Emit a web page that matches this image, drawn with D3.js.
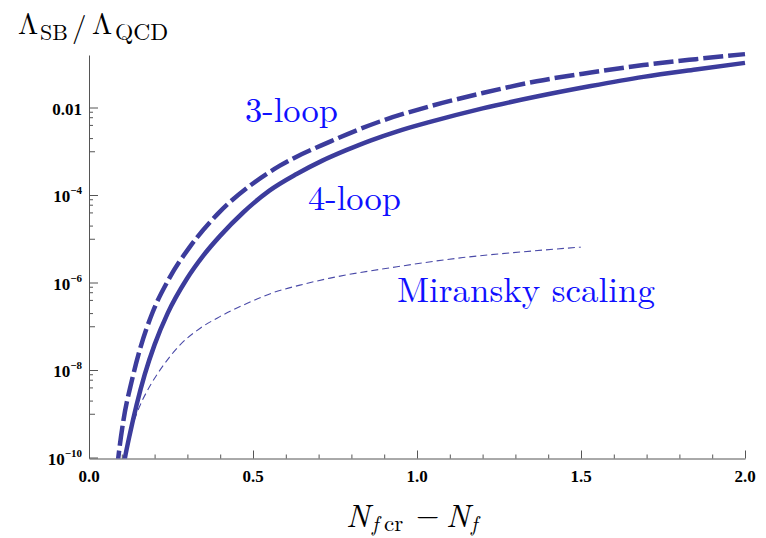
<!DOCTYPE html>
<html>
<head>
<meta charset="utf-8">
<script src="https://cdn.jsdelivr.net/npm/d3@7"></script>
<style>
  html, body { margin: 0; padding: 0; background: #fff; }
  svg { display: block; }
</style>
</head>
<body>
<svg id="chart" width="766" height="538"></svg>
<script>
// ---- data (y values are log10 of Λ_SB/Λ_QCD) ----
const loop3X   = [0.085, 0.0894, 0.105, 0.131, 0.1575, 0.194, 0.242, 0.308, 0.394, 0.501, 0.582, 0.735, 0.887, 1.04, 1.20, 1.365, 1.53, 1.69, 1.85, 2.0];
const loop3Log = [-10.3, -10.0, -9.15, -8.23, -7.47, -6.68, -5.94, -5.18, -4.42, -3.73, -3.33, -2.78, -2.32, -1.97, -1.67, -1.40, -1.20, -1.03, -0.895, -0.78];

const loop4X   = [0.105, 0.1098, 0.125, 0.145, 0.17, 0.20, 0.24, 0.298, 0.349, 0.399, 0.47, 0.55, 0.633, 0.71, 0.786, 0.86, 0.938, 1.04, 1.20, 1.365, 1.53, 1.69, 1.85, 2.0];
const loop4Log = [-10.2, -10.0, -9.45, -8.8, -8.1, -7.42, -6.70, -5.92, -5.38, -4.94, -4.40, -3.90, -3.52, -3.22, -2.97, -2.75, -2.55, -2.33, -2.02, -1.75, -1.51, -1.30, -1.13, -0.98];

const miranskyX   = [0.138, 0.150, 0.191, 0.227, 0.277, 0.338, 0.399, 0.481, 0.562, 0.643, 0.735, 0.939, 1.14, 1.32, 1.5];
const miranskyLog = [-9.15, -8.91, -8.30, -7.89, -7.43, -7.05, -6.78, -6.48, -6.23, -6.06, -5.90, -5.64, -5.43, -5.30, -5.19];

const xMajorTicks = [0, 0.5, 1.0, 1.5, 2.0];
const xTickLabels = ["0.0", "0.5", "1.0", "1.5", "2.0"];
const xMinorTicks = [0.1,0.2,0.3,0.4,0.6,0.7,0.8,0.9,1.1,1.2,1.3,1.4,1.6,1.7,1.8,1.9];
const yMajorExp   = [-10, -8, -6, -4, -2];
const yTickLabels = [["10","−10"], ["10","−8"], ["10","−6"], ["10","−4"], ["0.01",""]];

const seriesNames = ["3-loop", "4-loop", "Miransky scaling"];

// ---- layout ----
const svg = d3.select("#chart");
const x = d3.scaleLinear().domain([0, 2]).range([89, 745]);
const y = d3.scaleLog().domain([1e-10, Math.pow(10, -0.8)]).range([457.5, 55]);

const axisColor = "#555";
const curveColor = "#3c3c9c";
const labelColor = "#1010ff";
const tickFont = "\"Liberation Serif\", \"Times New Roman\", \"DejaVu Serif\"";
const mathFont = "\"Latin Modern Roman\", \"Liberation Serif\", \"DejaVu Serif\"";

// y minor ticks
const yMinor = [];
const yMid = [];
yMajorExp.forEach(k => {
  [8, 6, 4, 2].forEach(m => { const v = m * Math.pow(10, k - 1); if (v >= 1e-10) yMinor.push(v); });
  const v1 = Math.pow(10, k - 1); if (v1 >= 1e-10) yMid.push(v1);
});

function styleAxis(g) {
  g.selectAll("path, line").attr("stroke", axisColor).attr("stroke-width", 1);
}

// x axis
const gx = svg.append("g").attr("transform", "translate(0,458.5)");
gx.call(d3.axisBottom(x).tickValues(xMajorTicks).tickSize(-8).tickSizeOuter(0).tickFormat(() => ""));
gx.append("g").call(d3.axisBottom(x).tickValues(xMinorTicks).tickSize(-4).tickFormat(() => "")).select(".domain").remove();
gx.call(styleAxis);
gx.selectAll("text").remove();

svg.append("g").selectAll("text").data(xMajorTicks).join("text")
  .attr("x", d => x(d)).attr("y", 482)
  .attr("text-anchor", "middle")
  .style("font-family", tickFont)
  .style("font-weight", "bold").style("font-size", "17px")
  .text((d, i) => xTickLabels[i]);

// y axis
const gy = svg.append("g").attr("transform", "translate(89,0)");
gy.call(d3.axisLeft(y).tickValues(yMajorExp.map(k => Math.pow(10, k))).tickSize(-9).tickSizeOuter(0).tickFormat(() => ""));
gy.append("g").call(d3.axisLeft(y).tickValues(yMinor).tickSize(-4).tickFormat(() => "")).select(".domain").remove();
gy.append("g").call(d3.axisLeft(y).tickValues(yMid).tickSize(-6).tickFormat(() => "")).select(".domain").remove();
gy.call(styleAxis);
gy.selectAll("text").remove();

const yl = svg.append("g").selectAll("text").data(yMajorExp).join("text")
  .attr("x", 82).attr("y", d => y(Math.pow(10, d)) + 7)
  .attr("text-anchor", "end")
  .style("font-family", tickFont)
  .style("font-weight", "bold").style("font-size", "17px");
yl.each(function(d, i) {
  const t = d3.select(this);
  const [base, sup] = yTickLabels[i];
  t.append("tspan").text(base);
  if (sup) t.append("tspan").style("font-size", "11px").attr("dy", -8).text(sup);
});

// curves
const line = d3.line().x(d => x(d[0])).y(d => y(Math.pow(10, d[1]))).curve(d3.curveMonotoneX);
svg.append("clipPath").attr("id", "plotclip").append("rect")
  .attr("x", 89).attr("y", 40).attr("width", 680).attr("height", 418.5);

const plot = svg.append("g").attr("clip-path", "url(#plotclip)");
plot.append("path").datum(miranskyX.map((v, i) => [v, miranskyLog[i]]))
  .attr("d", line).attr("fill", "none").attr("stroke", "#4a4aa8").attr("stroke-width", 1.1)
  .attr("stroke-dasharray", "7,4");
plot.append("path").datum(loop4X.map((v, i) => [v, loop4Log[i]]))
  .attr("d", line).attr("fill", "none").attr("stroke", curveColor).attr("stroke-width", 4.5);
plot.append("path").datum(loop3X.map((v, i) => [v, loop3Log[i]]))
  .attr("d", line).attr("fill", "none").attr("stroke", curveColor).attr("stroke-width", 4.5)
  .attr("stroke-dasharray", "20,5");

// series labels
const labelPos = [[245, 122, 93], [308, 210, 93], [397, 302, 258]];
svg.append("g").selectAll("text").data(seriesNames).join("text")
  .attr("x", (d, i) => labelPos[i][0]).attr("y", (d, i) => labelPos[i][1])
  .attr("textLength", (d, i) => labelPos[i][2]).attr("lengthAdjust", "spacingAndGlyphs")
  .style("font-family", mathFont)
  .style("font-size", "35px").attr("fill", labelColor)
  .text(d => d);

// axis titles (one text element each, built from tspans)
function title(parts) {
  const t = svg.append("text").attr("fill", "#000").style("font-family", mathFont);
  parts.forEach(p => {
    const s = t.append("tspan").attr("x", p.x).attr("y", p.y).style("font-size", p.size + "px").text(p.t);
    if (p.italic) s.style("font-style", "italic");
  });
  return t;
}
// Λ_SB / Λ_QCD
title([
  { t: "Λ", x: 18, y: 34, size: 29 },
  { t: "SB", x: 40, y: 40, size: 22 },
  { t: "/", x: 72, y: 37, size: 29 },
  { t: "Λ", x: 92, y: 34, size: 29 },
  { t: "QCD", x: 115, y: 40, size: 23.5 }
]);
// N_{f cr} − N_f
title([
  { t: "N", x: 346, y: 527, size: 32, italic: true },
  { t: "f", x: 372, y: 531, size: 21, italic: true },
  { t: "cr", x: 384, y: 531, size: 23 },
  { t: "−", x: 416, y: 525, size: 30 },
  { t: "N", x: 446, y: 527, size: 32, italic: true },
  { t: "f", x: 471, y: 531, size: 21, italic: true }
]);
</script>
</body>
</html>
